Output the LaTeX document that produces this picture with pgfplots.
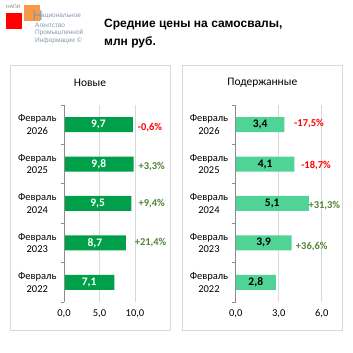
\documentclass[border=0pt]{standalone}
\usepackage{fontspec}
\setmainfont{Carlito}
\newfontfamily\arial{Liberation Sans}
\usepackage{pgfplots}
\pgfplotsset{compat=1.18}
\definecolor{dgreen}{HTML}{00A04A}
\definecolor{lgreen}{HTML}{4FD495}
\definecolor{pgreen}{HTML}{548235}
\definecolor{logoor}{HTML}{F79A46}
\definecolor{logogr}{HTML}{8496B0}
\pgfplotsset{
  panel/.style={
    scale only axis, clip=false,
    height=197pt, ymin=-0.5, ymax=4.5,
    axis line style={draw=none},
    ytick={0,1,2,3,4},
    yticklabels={{Февраль\\2022},{Февраль\\2023},{Февраль\\2024},{Февраль\\2025},{Февраль\\2026}},
    yticklabel style={align=center, font=\fontsize{10.5}{12.7}\selectfont, anchor=east, xshift=-4pt},
    minor ytick={-0.5,0.5,1.5,2.5,3.5,4.5},
    major tick length=0pt, minor tick length=3.5pt, tick align=outside,
    ytick pos=left, xtick pos=bottom,
    minor tick style={draw=gray!90, line width=0.8pt},
    xmajorgrids, major grid style={draw=gray!30, line width=0.8pt},
    xticklabel style={font=\fontsize{10.5}{12}\selectfont, yshift=-4pt},
    /pgf/number format/.cd, use comma, fixed, fixed zerofill, precision=1, assume math mode=true,
  },
  lab/.style={draw=none, mark=none, nodes near coords, point meta=explicit symbolic},
}
\begin{document}
\begin{tikzpicture}
\path[use as bounding box] (0,0) rectangle (353pt,353pt);
% logo
\node[anchor=west, inner sep=0pt, font=\arial\fontsize{5}{5}\selectfont, text=gray] at (6pt,346pt) {НАПИ};
\fill[red] (6pt,340.3pt) rectangle (22pt,324.3pt);
\fill[logoor] (24.3pt,348.3pt) rectangle (40pt,332.3pt);
\node[anchor=south west, inner sep=0pt, font=\arial\fontsize{14}{14}\selectfont, text=logogr] at (32.5pt,332.5pt) {Н};
\node[anchor=west, inner sep=0pt, font=\arial\fontsize{6.5}{6.5}\selectfont, text=logogr] at (41pt,336.3pt) {ациональное};
\node[anchor=west, inner sep=0pt, font=\arial\fontsize{6.5}{6.5}\selectfont, text=logogr] at (35pt,328pt) {Агентство};
\node[anchor=west, inner sep=0pt, font=\arial\fontsize{6.5}{6.5}\selectfont, text=logogr] at (35pt,320pt) {Промышленной};
\node[anchor=west, inner sep=0pt, font=\arial\fontsize{6.5}{6.5}\selectfont, text=logogr] at (35pt,312pt) {Информации ©};
% title
\node[anchor=west, align=left, inner sep=0pt, font=\arial\bfseries\fontsize{12}{17.7}\selectfont] at (104pt,319.2pt) {Средние цены на самосвалы,\\млн руб.};
% panel frames
\draw[gray!30, line width=0.8pt] (10pt,288pt) rectangle (170pt,23pt);
\draw[gray!30, line width=0.8pt] (182pt,288pt) rectangle (342pt,23pt);
\node[font=\fontsize{11.5}{13}\selectfont] at (90pt,270.3pt) {Новые};
\node[font=\fontsize{11.5}{13}\selectfont] at (262.3pt,270.3pt) {Подержанные};
% left panel
\begin{axis}[panel, at={(64pt,51pt)}, anchor=south west, width=71pt, xmin=0, xmax=10, xtick={0,5,10}]
\addplot[xbar, bar width=15pt, fill=dgreen, draw=none] table[x=v, y=y] {
y v
4 9.7
3 9.8
2 9.5
1 8.7
0 7.1
};
\addplot[lab, nodes near coords={\pgfplotspointmeta}, every node near coord/.style={anchor=center, inner sep=0pt, text=white, font=\bfseries\fontsize{11.5}{13}\selectfont}] table[x expr=\thisrow{v}/2, y=y, meta=lab] {
y v lab
4 9.7 9,7
3 9.8 9,8
2 9.5 9,5
1 8.7 8,7
0 7.1 7,1
};
\addplot[lab, nodes near coords={\pgfplotspointmeta\%}, every node near coord/.style={anchor=west, inner sep=0pt, text=red, font=\bfseries\fontsize{10.5}{12}\selectfont}] table[x=x, y=y, meta=lab] {
x y lab
10.37 3.92 -0,6
};
\addplot[lab, nodes near coords={\pgfplotspointmeta\%}, every node near coord/.style={anchor=west, inner sep=0pt, text=pgreen, font=\bfseries\fontsize{10.5}{12}\selectfont}] table[x=x, y=y, meta=lab] {
x y lab
10.47 2.93 +3,3
10.47 2.0 +9,4
9.94 1.0 +21,4
};
\draw[gray!90, line width=0.8pt] (rel axis cs:0,0) -- (rel axis cs:0,1);
\end{axis}
% right panel
\begin{axis}[panel, at={(235.7pt,51pt)}, anchor=south west, width=86pt, xmin=0, xmax=6, xtick={0,3,6}]
\addplot[xbar, bar width=15pt, fill=lgreen, draw=none] table[x=v, y=y] {
y v
4 3.4
3 4.1
2 5.1
1 3.9
0 2.8
};
\addplot[lab, nodes near coords={\pgfplotspointmeta}, every node near coord/.style={anchor=center, inner sep=0pt, text=black, font=\bfseries\fontsize{11.5}{13}\selectfont}] table[x expr=\thisrow{v}/2, y=y, meta=lab] {
y v lab
4 3.4 3,4
3 4.1 4,1
2 5.1 5,1
1 3.9 3,9
0 2.8 2,8
};
\addplot[lab, nodes near coords={\pgfplotspointmeta\%}, every node near coord/.style={anchor=west, inner sep=0pt, text=red, font=\bfseries\fontsize{10.5}{12}\selectfont}] table[x=x, y=y, meta=lab] {
x y lab
4.07 4.03 -17,5
4.56 2.95 -18,7
};
\addplot[lab, nodes near coords={\pgfplotspointmeta\%}, every node near coord/.style={anchor=west, inner sep=0pt, text=pgreen, font=\bfseries\fontsize{10.5}{12}\selectfont}] table[x=x, y=y, meta=lab] {
x y lab
5.07 1.95 +31,3
4.19 0.9 +36,6
};
\draw[gray!90, line width=0.8pt] (rel axis cs:0,0) -- (rel axis cs:0,1);
\end{axis}
\end{tikzpicture}
\end{document}
